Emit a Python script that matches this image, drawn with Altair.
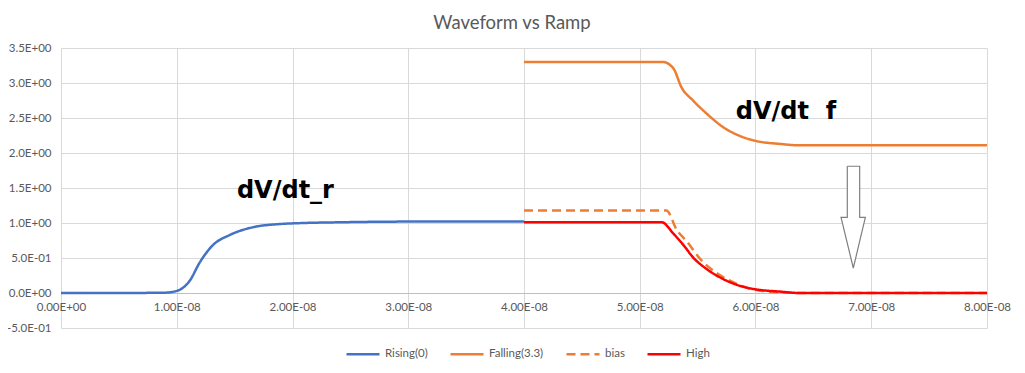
import json
import altair as alt
import pandas as pd

# ---- data ----
rising_t = [0, 0.5e-8, 0.9e-8, 1.0e-8, 1.03e-8, 1.11e-8, 1.2e-8, 1.31e-8, 1.46e-8, 1.66e-8, 1.89e-8, 2.1e-8, 2.4e-8, 3.0e-8, 4.0e-8]
rising_v = [0, 0, 0.005, 0.03, 0.05, 0.17, 0.44, 0.68, 0.83, 0.94, 0.985, 1.0, 1.01, 1.02, 1.02]

falling_t = [4.0e-8, 5.2e-8, 5.29e-8, 5.36e-8, 5.46e-8, 5.58e-8, 5.72e-8, 5.87e-8, 6.01e-8, 6.21e-8, 6.38e-8, 8.0e-8]
falling_v = [3.3, 3.3, 3.21, 2.94, 2.75, 2.56, 2.37, 2.24, 2.17, 2.13, 2.11, 2.11]

bias_t = [4.0e-8, 5.23e-8, 5.32e-8, 5.41e-8, 5.52e-8, 5.66e-8, 5.81e-8, 5.98e-8, 6.2e-8, 6.4e-8, 8.0e-8]
bias_v = [1.18, 1.18, 0.9, 0.73, 0.49, 0.29, 0.15, 0.05, 0.01, 0.0, 0.0]

high_t = [4.0e-8, 5.19e-8, 5.29e-8, 5.38e-8, 5.46e-8, 5.58e-8, 5.72e-8, 5.87e-8, 6.01e-8, 6.21e-8, 6.38e-8, 8.0e-8]
high_v = [1.01, 1.01, 0.85, 0.68, 0.51, 0.34, 0.20, 0.10, 0.05, 0.02, 0.0, 0.0]

series_names = ["Rising(0)", "Falling(3.3)", "bias", "High"]
series_colors = ["#4472C4", "#ED7D31", "#ED7D31", "#FF0000"]
series_dashes = [[1, 0], [1, 0], [9, 5], [1, 0]]

x_ticks = [0, 1e-08, 2e-08, 3e-08, 4e-08, 5e-08, 6e-08, 7e-08, 8e-08]
x_tick_labels = ["0.00E+00", "1.00E-08", "2.00E-08", "3.00E-08", "4.00E-08",
                 "5.00E-08", "6.00E-08", "7.00E-08", "8.00E-08"]
y_ticks = [-0.5, 0, 0.5, 1.0, 1.5, 2.0, 2.5, 3.0, 3.5]
y_tick_labels = ["-5.0E-01", "0.0E+00", "5.0E-01", "1.0E+00", "1.5E+00",
                 "2.0E+00", "2.5E+00", "3.0E+00", "3.5E+00"]

ann_text = ["dV/dt_r", "dV/dt \u00a0f"]
ann_x = [1.52e-8, 5.83e-8]
ann_y = [1.354, 2.486]

arrow_x = [6.793e-8, 6.900e-8, 6.900e-8, 6.949e-8, 6.845e-8, 6.739e-8, 6.793e-8, 6.793e-8]
arrow_y = [1.811, 1.811, 1.079, 1.079, 0.357, 1.079, 1.079, 1.811]

# ---- tables ----
rows = []
for name, ts, vs in zip(series_names, [rising_t, falling_t, bias_t, high_t],
                        [rising_v, falling_v, bias_v, high_v]):
    for t, v in zip(ts, vs):
        rows.append({"series": name, "t": t, "v": v})
df = pd.DataFrame(rows)
ann_df = pd.DataFrame({"t": ann_x, "v": ann_y, "label": ann_text})
arrow_df = pd.DataFrame({"t": arrow_x, "v": arrow_y, "i": list(range(len(arrow_x)))})

x_label_expr = "%s[indexof(%s, datum.value)]" % (json.dumps(x_tick_labels), json.dumps(x_ticks))
y_label_expr = "%s[indexof(%s, datum.value)]" % (json.dumps(y_tick_labels), json.dumps(y_ticks))

FONT = "Lato"
GRAY = "#595959"
GRID = "#D9D9D9"

x_scale = alt.Scale(domain=[0, 8e-8], nice=False, zero=False)
y_scale = alt.Scale(domain=[-0.5, 3.5], nice=False, zero=False)

x_axis = alt.Axis(values=x_ticks, labelExpr=x_label_expr, title=None, grid=True,
                  gridColor=GRID, domainColor="#BFBFBF", domainWidth=1,
                  ticks=False, labelFont=FONT, labelFontSize=11.5, labelColor=GRAY,
                  labelPadding=8, offset=-35, orient="bottom", labelFlush=False,
                  labelOverlap=False, tickCount=len(x_ticks))
y_axis = alt.Axis(values=y_ticks, labelExpr=y_label_expr, title=None, grid=True,
                  gridColor=GRID, domain=False, ticks=False, labelFont=FONT,
                  labelFontSize=11.5, labelColor=GRAY, labelPadding=10,
                  labelOverlap=False, tickCount=len(y_ticks))

lines = alt.Chart(df).mark_line(strokeWidth=2.5, interpolate="monotone").encode(
    x=alt.X("t:Q", scale=x_scale, axis=x_axis),
    y=alt.Y("v:Q", scale=y_scale, axis=y_axis),
    color=alt.Color("series:N", sort=series_names, title=None,
                    scale=alt.Scale(domain=series_names, range=series_colors)),
    strokeDash=alt.StrokeDash("series:N", sort=series_names, title=None,
                              scale=alt.Scale(domain=series_names, range=series_dashes)),
)

texts = alt.Chart(ann_df).mark_text(font="DejaVu Sans", fontWeight="bold", fontSize=24,
                                    align="left", baseline="alphabetic", color="black").encode(
    x=alt.X("t:Q", scale=x_scale), y=alt.Y("v:Q", scale=y_scale), text="label:N")

arrow = alt.Chart(arrow_df).mark_line(stroke="#7F7F7F", fill="white", strokeWidth=1.2).encode(
    x=alt.X("t:Q", scale=x_scale), y=alt.Y("v:Q", scale=y_scale), order="i:Q")

chart = alt.layer(lines, arrow, texts).properties(
    width=926, height=280,
    title=alt.Title("Waveform vs Ramp", font=FONT, fontSize=18.5, fontWeight="normal",
                    color=GRAY, anchor="middle", dx=-12, offset=10),
    autosize=alt.AutoSizeParams(type="none"),
    padding={"left": 53, "top": 40, "right": 30, "bottom": 37},
).configure_view(stroke=None).configure_legend(
    orient="none", legendX=284, legendY=288, direction="horizontal", columns=4,
    symbolType="stroke", symbolSize=1089, symbolStrokeWidth=2.5,
    labelFont=FONT, labelFontSize=11.5, labelColor=GRAY, labelOffset=4,
    columnPadding=17,
)

chart.save("out.html", embed_options={"renderer": "svg", "actions": False})
